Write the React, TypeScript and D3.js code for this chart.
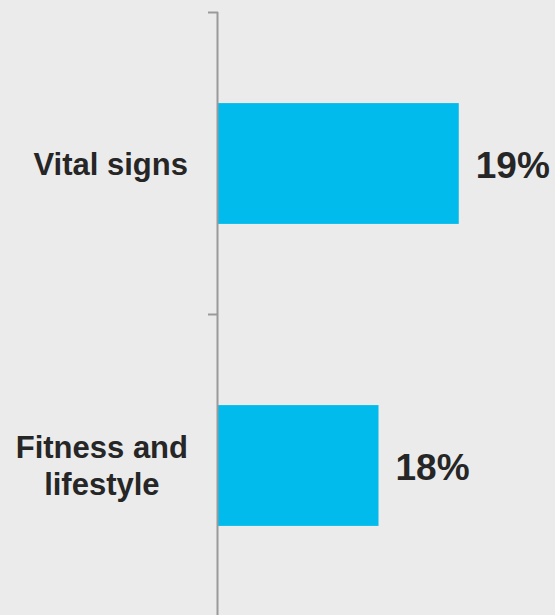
import React, { useEffect, useRef } from "react";
import * as d3 from "d3";

const categories: string[][] = [["Vital signs"], ["Fitness and", "lifestyle"]];
const values: number[] = [19, 18];
const valueLabels: string[] = ["19%", "18%"];

const W = 555;
const H = 615;

export default function App() {
  const ref = useRef<SVGSVGElement | null>(null);

  useEffect(() => {
    const svg = d3.select(ref.current);
    svg.selectAll("*").remove();

    svg.append("rect").attr("width", W).attr("height", H).attr("fill", "#ebebeb");

    const keys = categories.map((c) => c.join(" "));
    const y = d3.scaleBand<string>().domain(keys).range([12.5, 616.5]).padding(0);
    const x = d3.scaleLinear().domain([16, 20]).range([218, 539]);

    // bars
    svg
      .selectAll("rect.bar")
      .data(values)
      .enter()
      .append("rect")
      .attr("class", "bar")
      .attr("x", x(16))
      .attr("y", (_, i) => (y(keys[i]) as number) + y.bandwidth() * 0.3)
      .attr("width", (d) => x(d) - x(16))
      .attr("height", y.bandwidth() * 0.4)
      .attr("fill", "#00bbec");

    // axis
    const axis = svg.append("g");
    axis
      .append("line")
      .attr("x1", 217.5)
      .attr("x2", 217.5)
      .attr("y1", 12)
      .attr("y2", H)
      .attr("stroke", "#9a9a9a")
      .attr("stroke-width", 2);
    const tickYs = [...keys.map((k) => y(k) as number), (y(keys[keys.length - 1]) as number) + y.bandwidth()];
    axis
      .selectAll("line.tick")
      .data(tickYs)
      .enter()
      .append("line")
      .attr("class", "tick")
      .attr("x1", 208)
      .attr("x2", 218)
      .attr("y1", (d) => d)
      .attr("y2", (d) => d)
      .attr("stroke", "#9a9a9a")
      .attr("stroke-width", 2);

    // category labels
    const fs = 31;
    const lh = 37;
    categories.forEach((lines, i) => {
      const cy = (y(keys[i]) as number) + y.bandwidth() / 2;
      const g = svg.append("g");
      const texts = lines.map((line, j) =>
        g
          .append("text")
          .text(line)
          .attr("font-family", "'Liberation Sans', Arial, sans-serif")
          .attr("font-weight", "bold")
          .attr("font-size", fs)
          .attr("fill", "#262626")
          .attr("text-anchor", "middle")
          .attr("y", cy + (j - (lines.length - 1) / 2) * lh + fs * 0.36)
      );
      const maxW = d3.max(texts, (t) => (t.node() as SVGTextElement).getComputedTextLength()) || 0;
      const right = 188;
      texts.forEach((t) => t.attr("x", right - maxW / 2));
    });

    // value labels
    svg
      .selectAll("text.val")
      .data(values)
      .enter()
      .append("text")
      .attr("class", "val")
      .text((_, i) => valueLabels[i])
      .attr("x", (d) => x(d) + 17)
      .attr("y", (_, i) => (y(keys[i]) as number) + y.bandwidth() / 2 + 37 * 0.38)
      .attr("font-family", "'Liberation Sans', Arial, sans-serif")
      .attr("font-weight", "bold")
      .attr("font-size", 37)
      .attr("fill", "#262626");
  }, []);

  return (
    <svg
      ref={ref}
      width={W}
      height={H}
      style={{ position: "absolute", left: 0, top: 0, display: "block" }}
    />
  );
}
